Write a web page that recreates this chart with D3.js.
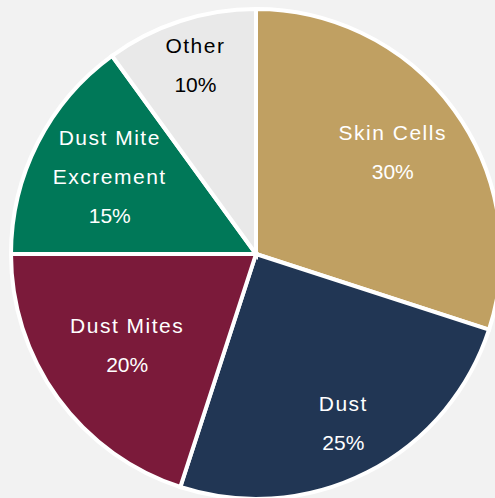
<!DOCTYPE html>
<html>
<head>
<meta charset="utf-8">
<script src="https://cdn.jsdelivr.net/npm/d3@7"></script>
<style>
  html, body { margin: 0; padding: 0; background: #f2f2f2; }
  svg { display: block; }
</style>
</head>
<body>
<div id="chart"></div>
<script>
const categories = ["Skin Cells", "Dust", "Dust Mites", "Dust Mite Excrement", "Other"];
const labelLines = [["Skin Cells"], ["Dust"], ["Dust Mites"], ["Dust Mite", "Excrement"], ["Other"]];
const values = [30, 25, 20, 15, 10];
const colors = ["#c0a062", "#213654", "#7b1a3a", "#007858", "#e9e9e9"];
const textColors = ["#ffffff", "#ffffff", "#ffffff", "#ffffff", "#000000"];

// layout: label distance from centre as a fraction of the radius (best-fit placement)
const labelRadiusFactor = [0.69, 0.785, 0.65, 0.67, 0.80];

const W = 495, H = 498;
const cx = 256, cy = 254, R = 245;

const svg = d3.select("#chart").append("svg")
  .attr("width", W).attr("height", H);
svg.append("rect").attr("width", W).attr("height", H).attr("fill", "#f2f2f2");

const g = svg.append("g").attr("transform", `translate(${cx},${cy})`);

const data = categories.map((c, i) => ({ name: c, value: values[i], i }));
const pie = d3.pie().value(d => d.value).sort(null);
const arcs = pie(data);
const arc = d3.arc().innerRadius(0).outerRadius(R);

g.selectAll("path.slice").data(arcs).enter().append("path")
  .attr("class", "slice")
  .attr("d", arc)
  .attr("fill", d => colors[d.data.i])
  .attr("stroke", "#ffffff")
  .attr("stroke-width", 4)
  .attr("stroke-linejoin", "miter");

const lineH = 39;

arcs.forEach(d => {
  const rr = R * labelRadiusFactor[d.data.i];
  const [lx, ly] = d3.arc().innerRadius(rr).outerRadius(rr).centroid(d);
  const lines = labelLines[d.data.i].concat([d.data.value + "%"]);
  const n = lines.length;
  const t = g.append("text")
    .attr("text-anchor", "middle")
    .attr("font-family", "'Liberation Sans', Arial, sans-serif")
    .attr("font-size", 21)
    .attr("fill", textColors[d.data.i]);
  lines.forEach((s, k) => {
    t.append("tspan")
      .attr("x", lx)
      .attr("y", ly + (k - (n - 1) / 2) * lineH + 5)
      .attr("letter-spacing", k < n - 1 ? 1.5 : 0)
      .text(s);
  });
});
</script>
</body>
</html>
